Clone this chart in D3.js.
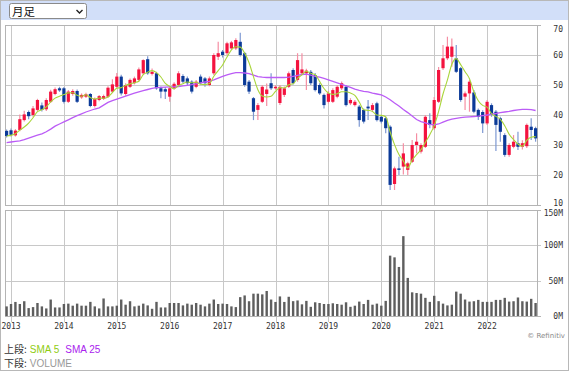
<!DOCTYPE html>
<html>
<head>
<meta charset="utf-8">
<script src="https://cdn.jsdelivr.net/npm/d3@7"></script>
<style>
  body { margin: 0; background: #fff; }
  svg { display: block; }
  text { font-family: "DejaVu Sans Mono", monospace; }
</style>
</head>
<body>
<div id="chart"></div>
<script>
// monthly candles, Dec 2012 .. Dec 2022
var firstMonth = new Date(2012, 11, 1);
var openPx  = [34.7,34.9,33.2,35.0,38.3,41.0,40.0,41.7,43.2,41.9,44.4,47.0,
  48.9,48.9,44.4,47.0,48.0,45.9,46.1,47.0,43.0,45.0,45.4,46.1,
  47.8,49.4,52.8,47.0,49.4,50.6,51.7,53.9,58.6,53.7,53.9,48.9,
  48.6,46.1,48.9,50.0,53.0,52.2,51.1,49.4,52.8,52.2,50.0,53.9,
  59.4,61.1,60.6,62.2,62.2,64.4,60.6,51.1,45.6,41.7,44.4,47.0,
  50.6,48.9,44.0,46.7,49.4,55.0,51.7,53.9,53.9,54.4,53.3,50.0,
  46.7,44.4,44.4,46.1,48.9,49.4,43.9,43.3,42.8,41.7,42.8,41.7,
  43.9,39.4,38.9,36.1,17.0,22.2,22.8,21.7,24.4,30.0,27.8,29.4,
  38.3,35.6,44.4,55.6,58.9,59.4,58.9,55.6,46.1,47.2,47.5,41.7,
  41.0,37.2,43.3,41.1,38.9,33.3,26.7,29.4,30.6,29.4,29.6,36.1,35.6];
var highPx  = [35.2,35.5,35.3,40.2,41.4,41.5,43.0,45.4,44.2,45.6,48.4,49.2,
  49.4,49.3,48.3,48.6,48.5,47.2,47.4,47.3,45.8,46.7,46.8,49.6,
  51.9,54.0,53.4,50.6,52.2,52.8,55.8,58.6,59.6,55.5,54.4,49.5,
  49.3,49.3,50.9,54.6,53.6,52.8,51.6,51.7,53.5,52.7,52.8,60.6,
  64.4,61.7,64.4,64.7,65.6,67.4,61.0,51.7,46.0,44.0,50.0,50.5,
  53.9,50.0,50.0,49.5,54.5,55.6,60.6,60.6,55.4,55.0,54.0,50.6,
  47.2,48.0,48.9,50.0,51.2,50.0,45.6,45.0,43.3,42.2,45.0,44.0,
  44.4,40.0,39.4,36.6,22.8,26.1,30.6,24.4,31.7,33.9,30.6,40.0,
  40.6,46.0,56.0,63.3,66.1,65.5,63.3,56.0,47.8,51.7,48.3,42.2,
  41.6,45.0,43.9,41.7,39.4,33.9,30.6,33.3,34.4,31.6,37.2,38.9,36.1];
var lowPx   = [32.5,32.8,32.8,34.6,37.8,38.6,39.4,41.2,41.2,41.3,44.0,46.6,
  47.7,43.8,44.0,46.4,44.0,45.4,45.7,42.6,42.5,44.6,45.0,45.7,
  47.3,48.9,46.5,46.4,49.0,50.2,51.2,53.4,53.4,53.2,48.4,45.6,
  45.3,44.4,48.4,49.5,50.6,49.8,47.2,48.9,50.2,49.4,49.6,53.3,
  58.3,59.2,60.0,61.7,61.7,59.5,49.4,47.0,38.3,38.3,44.0,43.0,
  48.3,48.4,43.3,46.0,49.0,50.2,51.1,53.4,48.3,50.0,47.8,46.7,
  42.2,43.8,44.0,45.6,48.3,42.8,43.3,42.8,36.1,37.2,38.3,41.1,
  37.8,37.2,33.9,15.0,15.0,20.0,20.2,20.0,24.0,27.2,27.2,29.0,
  35.6,35.0,44.0,55.0,58.3,56.1,54.0,44.4,41.7,41.1,40.6,38.3,
  34.0,36.7,39.4,28.0,31.1,26.1,26.1,28.9,28.3,28.5,29.0,31.7,31.1];
var closePx = [33.0,33.4,34.8,38.6,40.2,39.6,42.2,45.0,41.7,45.0,47.8,48.6,
  48.2,44.4,47.8,48.0,44.4,46.7,46.9,43.0,45.4,46.3,46.3,49.1,
  50.2,52.8,47.2,50.0,51.7,52.2,55.2,58.3,53.9,54.4,48.9,47.8,
  47.8,48.9,50.4,53.9,51.1,50.6,47.8,51.1,50.6,50.6,52.2,60.0,
  60.6,60.0,63.9,64.2,65.0,60.0,50.0,47.8,41.1,43.3,49.4,48.5,
  48.9,49.4,49.4,48.9,53.9,50.6,58.3,55.2,54.8,50.6,48.3,47.2,
  43.3,47.2,48.3,49.4,50.6,43.3,45.0,44.4,38.3,37.8,42.2,43.3,
  38.3,37.8,35.6,16.7,22.2,21.7,27.2,23.9,30.0,31.1,30.0,39.4,
  36.7,45.0,55.0,58.9,62.8,62.8,54.4,45.0,47.2,51.1,41.1,39.4,
  37.2,44.4,40.0,36.7,34.4,26.7,30.0,31.1,29.4,30.6,36.7,35.0,32.2];
// volume, millions
var volume  = [13.6,17,19.9,17,20.9,11.2,12.6,18.4,13.6,10.7,23.3,12.1,
  12.1,17,17.5,14.6,17.5,14.6,14.6,20,13.6,10.7,24.8,13.6,
  13.6,14.6,23.3,16,20.9,13.6,14.6,17.5,15,10.2,20,12.1,
  12.1,18.4,18.4,18.4,15,17.5,16,18.4,16,13.6,17.5,23.3,
  17,17.5,17,13.6,12.6,26.7,29.1,20.9,31.6,31.6,30.6,35.4,
  23.3,19.9,27.7,19.9,27.2,21,22,16.5,21.4,13,19.4,18.4,
  17,17,18,17,16,19.4,13,14.6,20.4,17,22.8,16,
  17.5,14.6,21.4,85.4,83,69.4,113,53.9,33.5,32.5,31.6,25.7,
  20,28.6,21,17.5,15,16,34.5,31.6,23.3,20.4,20.9,22.8,
  20,20,20,22.8,22.8,25.7,20.4,20.9,26.2,20.9,20.4,24.3,18.4];
// 25-month SMA as drawn (needs history before the first candle)
var sma25 = [30.8,31,31.2,31.4,31.8,32.3,32.8,33.3,33.7,34.4,
  35.3,36.3,37,37.7,38.4,39.1,39.8,40.4,41,41.5,
  42,42.4,43.3,44.2,44.8,45.3,45.8,46.3,46.8,47.3,
  47.7,48.1,48.5,48.9,49.1,49.2,49.3,49.4,49.4,49.5,
  49.7,49.9,50.1,50.4,50.7,51,51.2,51.7,52.3,52.9,
  53.4,53.8,54.1,54.1,54,53.8,53.3,52.8,52.6,52.5,
  52.5,52.5,52.5,52.5,52.6,52.9,53.2,53.5,53.6,53.3,
  52.9,52.6,52.2,51.7,51.2,50.7,50.2,49.7,49.2,48.6,
  48.2,47.9,47.7,47.3,47,46.7,46,45.1,44,43,
  41.8,40.8,39.7,38.5,37.8,37.4,36.9,36.7,37,37.6,
  38.2,38.6,38.9,39.1,39.3,39.4,39.5,39.6,39.8,40,
  40.3,40.5,40.8,41,41.2,41.5,41.7,41.9,41.9,41.8,41.5];
var priceTicks = [10, 20, 30, 40, 50, 60, 70];
var volTicks = [0, 50, 100, 150];
var yearLabels = ['2013','2014','2015','2016','2017','2018','2019','2020','2021','2022'];

var months = d3.timeMonth.range(firstMonth, d3.timeMonth.offset(firstMonth, closePx.length));
var candles = months.map(function(m, i) {
  return {date: m, o: openPx[i], h: highPx[i], l: lowPx[i], c: closePx[i], v: volume[i], s25: sma25[i]};
});
// 5-month SMA from the closes
candles.forEach(function(d, i) {
  d.s5 = d3.mean(closePx.slice(Math.max(0, i - 4), i + 1));
});

var width = 569, height = 371;
var left = 5, right = 537;
var priceTop = 25, priceBottom = 205, volTop = 210, volBottom = 316;

var svg = d3.select('#chart').append('svg')
  .attr('width', width)
  .attr('height', height);

var x = d3.scaleBand()
  .domain(months.map(function(m) { return +m; }))
  .range([4.4, 537.8]);
var xc = function(d) { return x(+d) + x.bandwidth() / 2; };

var y = d3.scaleLinear().domain([10, 70]).range([priceBottom, priceTop]);
var yv = d3.scaleLinear().domain([0, 150]).range([volBottom, volTop]);

// frame + header strip
svg.append('rect').attr('x', 0.5).attr('y', 0.5).attr('width', width - 1).attr('height', height - 1)
  .attr('fill', '#fff').attr('stroke', '#b8b8b8');
svg.append('rect').attr('x', 1).attr('y', 1).attr('width', width - 2).attr('height', 19)
  .attr('fill', '#d2dff9');

var sel = svg.append('g');
sel.append('rect').attr('x', 9.5).attr('y', 3.5).attr('width', 77).attr('height', 15).attr('rx', 2)
  .attr('fill', '#fff').attr('stroke', '#8a8a8a');
sel.append('text').attr('x', 12).attr('y', 15.5)
  .style('font-family', '"Noto Sans CJK JP", sans-serif').style('font-size', '11.5px').attr('fill', '#111')
  .text('月足');
sel.append('path').attr('d', 'M76.5,10 L79.5,13 L82.5,10')
  .attr('fill', 'none').attr('stroke', '#222').attr('stroke-width', 1.4);

var yearTicks = months.filter(function(m) { return m.getMonth() === 0; });

// grid
var grid = svg.append('g').attr('stroke', '#c8c8c8').attr('stroke-width', 1);
grid.selectAll('.hp').data(priceTicks.slice(1, -1)).enter().append('line')
  .attr('x1', left).attr('x2', right + 4)
  .attr('y1', function(d) { return Math.round(y(d)) + 0.5; })
  .attr('y2', function(d) { return Math.round(y(d)) + 0.5; });
grid.selectAll('.hv').data(volTicks.slice(1, -1)).enter().append('line')
  .attr('x1', left).attr('x2', right + 4)
  .attr('y1', function(d) { return Math.round(yv(d)) + 0.5; })
  .attr('y2', function(d) { return Math.round(yv(d)) + 0.5; });
grid.selectAll('.vp').data(yearTicks).enter().append('line')
  .attr('x1', function(d) { return Math.round(xc(d)) + 0.5; })
  .attr('x2', function(d) { return Math.round(xc(d)) + 0.5; })
  .attr('y1', priceTop).attr('y2', priceBottom);
grid.selectAll('.vv').data(yearTicks).enter().append('line')
  .attr('x1', function(d) { return Math.round(xc(d)) + 0.5; })
  .attr('x2', function(d) { return Math.round(xc(d)) + 0.5; })
  .attr('y1', volTop).attr('y2', volBottom + 6);

// panel borders
[[priceTop, priceBottom], [volTop, volBottom]].forEach(function(p) {
  svg.append('rect')
    .attr('x', left + 0.5).attr('y', p[0] + 0.5)
    .attr('width', right - left).attr('height', p[1] - p[0])
    .attr('fill', 'none').attr('stroke', '#b4b4b4');
  svg.append('line').attr('x1', right).attr('x2', right + 4)
    .attr('y1', p[0] + 0.5).attr('y2', p[0] + 0.5).attr('stroke', '#b4b4b4');
  svg.append('line').attr('x1', right).attr('x2', right + 4)
    .attr('y1', p[1] + 0.5).attr('y2', p[1] + 0.5).attr('stroke', '#b4b4b4');
});

// volume bars
svg.append('g').selectAll('rect').data(candles).enter().append('rect')
  .attr('x', function(d) { return xc(d.date) - 1.2; })
  .attr('width', 2.4)
  .attr('y', function(d) { return yv(d.v); })
  .attr('height', function(d) { return volBottom - yv(d.v); })
  .attr('fill', '#5e5e5e');

// candles
var up = function(d) { return d.c >= d.o; };
var cg = svg.append('g');
cg.selectAll('line').data(candles).enter().append('line')
  .attr('x1', function(d) { return xc(d.date); })
  .attr('x2', function(d) { return xc(d.date); })
  .attr('y1', function(d) { return y(d.h); })
  .attr('y2', function(d) { return y(d.l); })
  .attr('stroke', function(d) { return up(d) ? '#f58ea3' : '#7d98d2'; })
  .attr('stroke-width', 1.2);
cg.selectAll('rect').data(candles).enter().append('rect')
  .attr('x', function(d) { return xc(d.date) - 1.6; })
  .attr('width', 3.2)
  .attr('y', function(d) { return y(Math.max(d.o, d.c)); })
  .attr('height', function(d) { return Math.max(1, Math.abs(y(d.o) - y(d.c))); })
  .attr('fill', function(d) { return up(d) ? '#f4133f' : '#0b3a98'; });

// moving averages
var line25 = d3.line().x(function(d) { return xc(d.date); }).y(function(d) { return y(d.s25); });
var line5 = d3.line().curve(d3.curveMonotoneX).x(function(d) { return xc(d.date); }).y(function(d) { return y(d.s5); });
svg.append('path').datum(candles).attr('d', line25)
  .attr('fill', 'none').attr('stroke', '#bb5cf6').attr('stroke-width', 1.3);
svg.append('path').datum(candles).attr('d', line5)
  .attr('fill', 'none').attr('stroke', '#a9d53a').attr('stroke-width', 1.1);

// right axes
var pa = svg.append('g').attr('transform', 'translate(563,0)')
  .call(d3.axisRight(y).tickValues(priceTicks).tickSize(0).tickPadding(0));
pa.select('.domain').remove();
pa.selectAll('text').attr('text-anchor', 'end').attr('fill', '#333').style('font-size', '8px')
  .attr('dy', function(d) { return d === 70 ? '0.85em' : d === 10 ? '0.1em' : '0.32em'; });

var va = svg.append('g').attr('transform', 'translate(563,0)')
  .call(d3.axisRight(yv).tickValues(volTicks).tickSize(0).tickPadding(0)
    .tickFormat(function(d) { return d + 'M'; }));
va.select('.domain').remove();
va.selectAll('text').attr('text-anchor', 'end').attr('fill', '#333').style('font-size', '8px')
  .attr('dy', function(d) { return d === 150 ? '0.7em' : '0.32em'; });

// year axis
svg.append('g').selectAll('text').data(yearTicks).enter().append('text')
  .attr('x', function(d) { return xc(d); })
  .attr('y', 329)
  .attr('text-anchor', 'middle')
  .attr('fill', '#333').style('font-size', '8px')
  .text(function(d, i) { return yearLabels[i]; });

svg.append('text').attr('x', 565).attr('y', 338).attr('text-anchor', 'end')
  .style('font-family', '"DejaVu Sans", sans-serif').style('font-size', '7px').attr('fill', '#888')
  .text('© Refinitiv');

// legend
var sansFont = '"Liberation Sans", Arial, sans-serif';
var jpFont = '"Noto Sans CJK JP", sans-serif';
var l1 = svg.append('text').attr('x', 4).attr('y', 353)
  .style('font-family', sansFont).style('font-size', '10px');
l1.append('tspan').attr('fill', '#333').style('font-family', jpFont).text('上段:');
l1.append('tspan').attr('fill', '#8fcc12').attr('dx', 3).text('SMA 5');
l1.append('tspan').attr('fill', '#aa22ee').attr('dx', 6).text('SMA 25');
var l2 = svg.append('text').attr('x', 4).attr('y', 367)
  .style('font-family', sansFont).style('font-size', '10px');
l2.append('tspan').attr('fill', '#333').style('font-family', jpFont).text('下段:');
l2.append('tspan').attr('fill', '#999').attr('dx', 3).text('VOLUME');
</script>
</body>
</html>
